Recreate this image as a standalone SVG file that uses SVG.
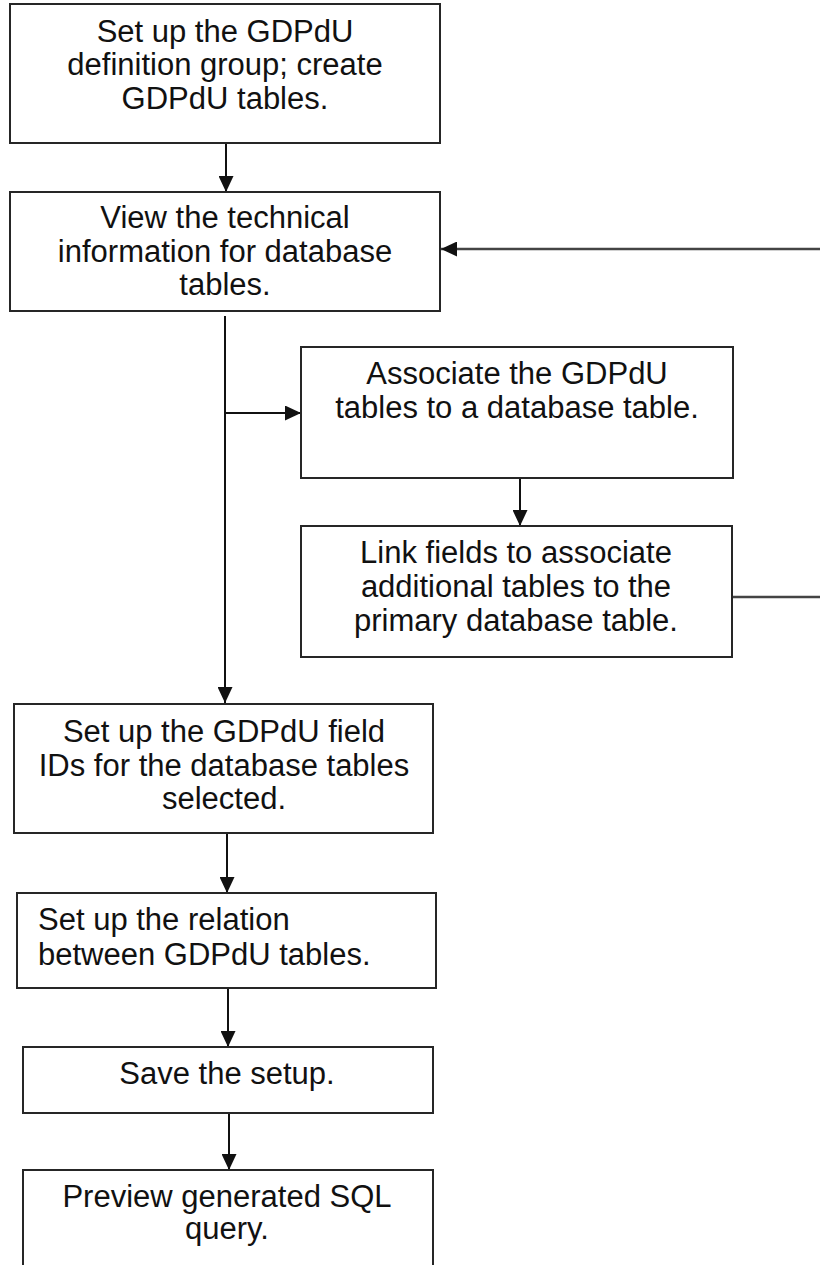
<svg xmlns="http://www.w3.org/2000/svg" width="820" height="1265" viewBox="0 0 820 1265">
<style>
.box{fill:#fff;stroke:#262626;stroke-width:2}
.t{font-family:"Liberation Sans",Arial,sans-serif;font-size:31px;fill:#111;text-anchor:middle}
.tl{text-anchor:start}
.c{fill:none;stroke:#111;stroke-width:2}
.g{fill:none;stroke:#444;stroke-width:2.5}
</style>
<defs>
<marker id="ah" markerUnits="userSpaceOnUse" markerWidth="16" markerHeight="15" refX="16" refY="7.5" orient="auto">
<path d="M0,0 L16,7.5 L0,15 z" fill="#111"/>
</marker>
</defs>
<rect width="820" height="1265" fill="#fff"/>
<g id="connectors">
<line class="c" x1="226" y1="143" x2="226" y2="192" marker-end="url(#ah)"/>
<path class="g" d="M733,597 H823 V249 H441" marker-end="url(#ah)"/>
<line class="c" x1="225" y1="316" x2="225" y2="703" marker-end="url(#ah)"/>
<line class="c" x1="225" y1="413" x2="301" y2="413" marker-end="url(#ah)"/>
<line class="c" x1="520" y1="478" x2="520" y2="526" marker-end="url(#ah)"/>
<line class="c" x1="227" y1="833" x2="227" y2="893" marker-end="url(#ah)"/>
<line class="c" x1="228" y1="986" x2="228" y2="1047" marker-end="url(#ah)"/>
<line class="c" x1="229" y1="1108" x2="229" y2="1170" marker-end="url(#ah)"/>
</g>
<g id="n1">
<rect class="box" x="10" y="4" width="430" height="139"/>
<text class="t" x="225" y="42">Set up the GDPdU</text>
<text class="t" x="225" y="75">definition group; create</text>
<text class="t" x="225" y="109">GDPdU tables.</text>
</g>
<g id="n2">
<rect class="box" x="10" y="192" width="430" height="119"/>
<text class="t" x="225" y="228">View the technical</text>
<text class="t" x="225" y="262">information for database</text>
<text class="t" x="225" y="295">tables.</text>
</g>
<g id="n3">
<rect class="box" x="301" y="347" width="432" height="131"/>
<text class="t" x="517" y="384">Associate the GDPdU</text>
<text class="t" x="517" y="418">tables to a database table.</text>
</g>
<g id="n4">
<rect class="box" x="301" y="526" width="431" height="131"/>
<text class="t" x="516" y="563">Link fields to associate</text>
<text class="t" x="516" y="597">additional tables to the</text>
<text class="t" x="516" y="631">primary database table.</text>
</g>
<g id="n5">
<rect class="box" x="14" y="704" width="419" height="129"/>
<text class="t" x="224" y="742">Set up the GDPdU field</text>
<text class="t" x="224" y="776">IDs for the database tables</text>
<text class="t" x="224" y="809">selected.</text>
</g>
<g id="n6">
<rect class="box" x="17" y="893" width="419" height="95"/>
<text class="t tl" x="38" y="930">Set up the relation</text>
<text class="t tl" x="38" y="965">between GDPdU tables.</text>
</g>
<g id="n7">
<rect class="box" x="23" y="1047" width="410" height="66"/>
<text class="t" x="227" y="1084">Save the setup.</text>
</g>
<g id="n8">
<rect class="box" x="23" y="1170" width="410" height="130"/>
<text class="t" x="227" y="1207">Preview generated SQL</text>
<text class="t" x="227" y="1239">query.</text>
</g>
</svg>
